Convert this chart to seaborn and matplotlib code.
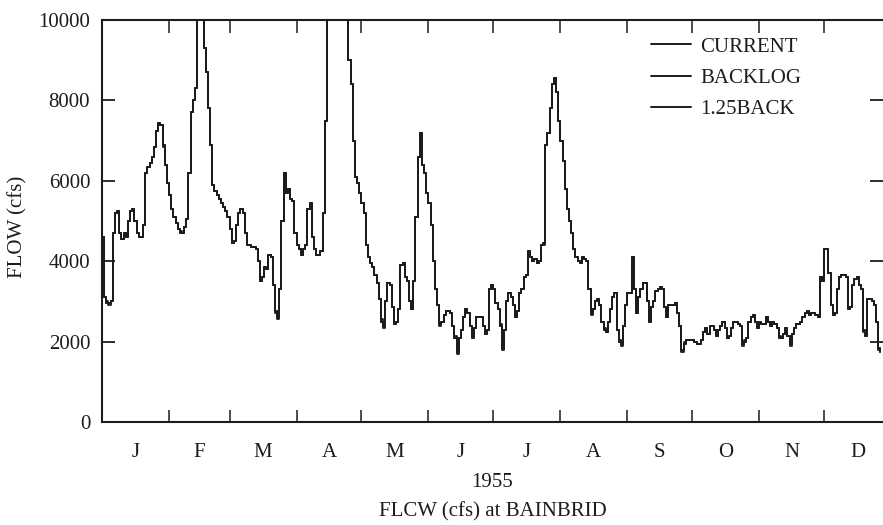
import matplotlib
matplotlib.use("Agg")
import matplotlib.pyplot as plt
from matplotlib.lines import Line2D
import pandas as pd
import seaborn as sns

# ---------------- data (daily flow, cfs, 1955) ----------------
days = list(range(361))

current = [
    4600, 3100, 2950, 2950, 3000, 4700, 5200, 5250, 4700, 4550,
    4700, 4600, 5000, 5250, 5300, 5000, 4700, 4600, 4600, 4900,
    6200, 6350, 6450, 6600, 6850, 7250, 7450, 7400, 6900, 6400,
    5950, 5650, 5300, 5100, 4950, 4800, 4700, 4700, 4850, 5050,
    6200, 7700, 8000, 8300, 11500, 12000, 11000, 9300, 8700, 7800,
    6900, 5900, 5750, 5650, 5550, 5450, 5350, 5250, 5100, 4800,
    4450, 4500, 4900, 5200, 5300, 5200, 4700, 4400, 4400, 4350,
    4350, 4300, 4000, 3500, 3600, 3850, 3800, 4150, 4100, 3400,
    2750, 2600, 3300, 5000, 6200, 5700, 5800, 5550, 5500, 4700,
    4400, 4300, 4150, 4300, 4400, 5300, 5450, 4600, 4300, 4150,
    4150, 4250, 5200, 7500, 10500, 12000, 12500, 13000, 12500, 12000,
    11500, 11000, 10800, 10300, 9000, 8400, 7000, 6100, 5950, 5700,
    5450, 5200, 4400, 4100, 3950, 3850, 3650, 3450, 3050, 2500,
    2400, 3000, 3450, 3400, 2850, 2450, 2500, 2800, 3900, 3950,
    3600, 3500, 3000, 2800, 3500, 5100, 6600, 7200, 6400, 6200,
    5700, 5450, 4900, 4000, 3300, 2900, 2450, 2500, 2650, 2750,
    2750, 2700, 2400, 2100, 1750, 2100, 2300, 2600, 2800, 2700,
    2400, 2100, 2350, 2600, 2600, 2600, 2400, 2200, 2300, 3300,
    3400, 3300, 2950, 2800, 2400, 1850, 2300, 3000, 3200, 3100,
    2900, 2600, 2750, 3200, 3300, 3600, 3650, 4250, 4100, 4000,
    4050, 3950, 4000, 4400, 4450, 6900, 7200, 7800, 8400, 8550,
    8200, 7500, 7000, 6500, 5800, 5300, 5000, 4700, 4300, 4100,
    4000, 3950, 4100, 4050, 4000, 3300, 2700, 2800, 3000, 3050,
    2900, 2500, 2300, 2250, 2500, 2800, 3100, 3200, 2300, 2000,
    1950, 2400, 2900, 3200, 3200, 4100, 3300, 2700, 3100, 3300,
    3450, 3450, 3000, 2500, 2850, 3000, 3250, 3300, 3350, 3300,
    2850, 2600, 2900, 2900, 2900, 2950, 2700, 2400, 1800, 1950,
    2050, 2050, 2050, 2050, 2000, 1950, 1950, 2050, 2250, 2350,
    2200, 2400, 2400, 2300, 2150, 2300, 2400, 2500, 2350, 2100,
    2150, 2350, 2500, 2500, 2450, 2400, 1950, 2000, 2100, 2500,
    2600, 2650, 2500, 2350, 2500, 2450, 2450, 2600, 2500, 2400,
    2500, 2450, 2350, 2100, 2100, 2200, 2350, 2150, 1950, 2200,
    2350, 2450, 2450, 2500, 2600, 2700, 2750, 2650, 2700, 2700,
    2650, 2600, 3600, 3500, 4300, 4300, 3700, 2900, 2650, 2700,
    3300, 3600, 3650, 3650, 3600, 2800, 2850, 3400, 3550, 3600,
    3400, 3300, 2300, 2150, 3050, 3050, 3000, 2900, 2500, 1850,
    1750,
]

backlog = [
    4600, 3100, 2950, 2900, 3000, 4700, 5200, 5250, 4700, 4550,
    4700, 4600, 5000, 5250, 5300, 5000, 4700, 4600, 4600, 4900,
    6200, 6350, 6450, 6600, 6850, 7250, 7450, 7400, 6850, 6400,
    5950, 5650, 5300, 5100, 4950, 4800, 4700, 4700, 4850, 5050,
    6200, 7700, 8000, 8300, 11500, 12000, 11000, 9300, 8700, 7800,
    6900, 5900, 5750, 5650, 5550, 5450, 5350, 5250, 5100, 4800,
    4450, 4500, 4900, 5200, 5300, 5200, 4700, 4400, 4400, 4350,
    4350, 4300, 4000, 3500, 3600, 3850, 3800, 4150, 4100, 3400,
    2750, 2550, 3300, 5000, 6200, 5700, 5800, 5550, 5500, 4700,
    4400, 4300, 4150, 4300, 4400, 5300, 5450, 4600, 4300, 4150,
    4150, 4250, 5200, 7500, 10500, 12000, 12500, 13000, 12500, 12000,
    11500, 11000, 10800, 10300, 9000, 8400, 7000, 6100, 5950, 5700,
    5450, 5200, 4400, 4100, 3950, 3850, 3650, 3450, 3050, 2500,
    2350, 3000, 3450, 3400, 2850, 2450, 2500, 2800, 3900, 3950,
    3600, 3500, 3000, 2800, 3500, 5100, 6600, 7200, 6400, 6200,
    5700, 5450, 4900, 4000, 3300, 2900, 2400, 2500, 2650, 2750,
    2750, 2700, 2400, 2100, 1700, 2100, 2300, 2600, 2800, 2700,
    2400, 2100, 2350, 2600, 2600, 2600, 2400, 2200, 2300, 3300,
    3400, 3300, 2950, 2800, 2400, 1800, 2300, 3000, 3200, 3100,
    2900, 2600, 2750, 3200, 3300, 3600, 3650, 4250, 4100, 4000,
    4050, 3950, 4000, 4400, 4400, 6900, 7200, 7800, 8400, 8550,
    8200, 7500, 7000, 6500, 5800, 5300, 5000, 4700, 4300, 4100,
    4000, 3950, 4100, 4050, 4000, 3300, 2650, 2800, 3000, 3050,
    2900, 2500, 2300, 2250, 2500, 2800, 3100, 3200, 2300, 2000,
    1900, 2400, 2900, 3200, 3200, 4100, 3300, 2700, 3100, 3300,
    3450, 3450, 3000, 2500, 2850, 3000, 3250, 3300, 3350, 3300,
    2850, 2600, 2900, 2900, 2900, 2950, 2700, 2400, 1750, 1950,
    2050, 2050, 2050, 2050, 2000, 1950, 1950, 2050, 2250, 2350,
    2200, 2400, 2400, 2300, 2150, 2300, 2400, 2500, 2350, 2100,
    2150, 2350, 2500, 2500, 2450, 2400, 1900, 2000, 2100, 2500,
    2600, 2650, 2500, 2350, 2500, 2450, 2450, 2600, 2500, 2400,
    2500, 2450, 2350, 2100, 2100, 2200, 2350, 2150, 1900, 2200,
    2350, 2450, 2450, 2500, 2600, 2700, 2750, 2650, 2700, 2700,
    2650, 2600, 3600, 3500, 4300, 4300, 3700, 2900, 2650, 2700,
    3300, 3600, 3650, 3650, 3600, 2800, 2850, 3400, 3550, 3600,
    3400, 3300, 2250, 2150, 3050, 3050, 3000, 2900, 2500, 1800,
    1750,
]

back125 = [
    4600, 3100, 3000, 2950, 3000, 4700, 5200, 5250, 4700, 4550,
    4700, 4600, 5000, 5250, 5300, 5000, 4700, 4600, 4600, 4900,
    6200, 6350, 6450, 6600, 6850, 7250, 7450, 7400, 6900, 6400,
    5950, 5650, 5300, 5100, 4950, 4800, 4750, 4700, 4850, 5050,
    6200, 7700, 8000, 8300, 11500, 12000, 11000, 9300, 8700, 7800,
    6900, 5900, 5750, 5650, 5550, 5450, 5350, 5250, 5100, 4800,
    4450, 4500, 4900, 5200, 5300, 5200, 4700, 4400, 4400, 4350,
    4350, 4300, 4000, 3500, 3600, 3850, 3800, 4150, 4100, 3400,
    2700, 2600, 3300, 5000, 6200, 5700, 5800, 5550, 5500, 4700,
    4400, 4300, 4150, 4300, 4400, 5300, 5450, 4600, 4300, 4150,
    4150, 4250, 5200, 7500, 10500, 12000, 12500, 13000, 12500, 12000,
    11500, 11000, 10800, 10300, 9000, 8400, 7000, 6100, 5950, 5700,
    5450, 5200, 4400, 4100, 3950, 3850, 3650, 3450, 3050, 2550,
    2400, 3000, 3450, 3400, 2850, 2450, 2500, 2800, 3900, 3950,
    3600, 3500, 3000, 2800, 3500, 5100, 6600, 7200, 6400, 6200,
    5700, 5450, 4900, 4000, 3300, 2900, 2450, 2500, 2650, 2750,
    2750, 2700, 2400, 2150, 1750, 2100, 2300, 2600, 2800, 2700,
    2400, 2150, 2350, 2600, 2600, 2600, 2400, 2200, 2300, 3300,
    3400, 3300, 2950, 2800, 2450, 1850, 2300, 3000, 3200, 3100,
    2900, 2600, 2750, 3200, 3300, 3600, 3650, 4250, 4100, 4000,
    4050, 3950, 4000, 4400, 4450, 6900, 7200, 7800, 8400, 8550,
    8200, 7500, 7000, 6500, 5800, 5300, 5000, 4700, 4300, 4100,
    4000, 3950, 4100, 4050, 4000, 3300, 2700, 2800, 3000, 3050,
    2900, 2500, 2350, 2250, 2500, 2800, 3100, 3200, 2300, 2050,
    1950, 2400, 2900, 3200, 3200, 4100, 3300, 2700, 3100, 3300,
    3450, 3450, 3000, 2550, 2850, 3000, 3250, 3300, 3350, 3300,
    2850, 2600, 2900, 2900, 2900, 2950, 2700, 2400, 1800, 2000,
    2050, 2050, 2050, 2050, 2000, 1950, 1950, 2050, 2250, 2350,
    2200, 2400, 2400, 2300, 2150, 2300, 2400, 2500, 2350, 2100,
    2150, 2350, 2500, 2500, 2450, 2400, 1950, 2050, 2100, 2500,
    2600, 2650, 2500, 2350, 2500, 2450, 2450, 2600, 2500, 2400,
    2500, 2450, 2350, 2150, 2100, 2200, 2350, 2150, 1950, 2200,
    2350, 2450, 2450, 2500, 2600, 2700, 2750, 2650, 2700, 2700,
    2650, 2600, 3600, 3500, 4300, 4300, 3700, 2900, 2650, 2700,
    3300, 3600, 3650, 3650, 3600, 2850, 2850, 3400, 3550, 3600,
    3400, 3300, 2300, 2150, 3050, 3050, 3000, 2900, 2500, 1850,
    1800,
]

series_names = ["CURRENT", "BACKLOG", "1.25BACK"]
month_labels = ["J", "F", "M", "A", "M", "J", "J", "A", "S", "O", "N", "D"]
month_starts = [0, 31, 59, 90, 120, 151, 181, 212, 243, 273, 304, 334, 365]
y_ticks = [0, 2000, 4000, 6000, 8000, 10000]
x_title = "1955\nFLCW (cfs) at BAINBRID"
y_title = "FLOW (cfs)"

# ---------------- figure ----------------
sns.set_style("ticks")
plt.rcParams["font.family"] = ["Liberation Serif", "DejaVu Serif"]

W, H = 883, 525
fig = plt.figure(figsize=(W / 100, H / 100), dpi=100)
ax = fig.add_axes([102 / W, 1 - 422 / H, 781 / W, 402 / H])

ink = "#1c1c1c"
df = pd.DataFrame({
    "day": days * 3,
    "flow": current + backlog + back125,
    "series": [n for n in series_names for _ in days],
})
sns.lineplot(data=df, x="day", y="flow", hue="series",
             palette={n: ink for n in series_names},
             drawstyle="steps-post", linewidth=1.3, estimator=None,
             legend=False, ax=ax)

ax.set_xlim(0, 781 / 2.162)
ax.set_ylim(0, 10000)

# x ticks: month boundaries (unlabelled), month letters mid-month
ax.set_xticks(month_starts[1:12])
ax.set_xticklabels([])
mids = [(month_starts[i] + month_starts[i + 1]) / 2 for i in range(12)]
ax.set_xticks(mids, minor=True)
ax.set_xticklabels(month_labels, minor=True)
ax.tick_params(axis="x", which="major", direction="in", length=9, width=1.1,
               top=True, bottom=True, color=ink)
ax.tick_params(axis="x", which="minor", length=0, pad=15, labelsize=15,
               labelcolor=ink)

ax.set_yticks(y_ticks)
ax.set_yticklabels([str(v) for v in y_ticks])
ax.tick_params(axis="y", which="major", direction="in", length=9.5, width=1.3,
               left=True, right=True, pad=8.5, labelsize=15, color=ink,
               labelcolor=ink)

for side in ["left", "top", "bottom"]:
    ax.spines[side].set_linewidth(1.5)
    ax.spines[side].set_color(ink)
ax.spines["right"].set_visible(False)

ax.set_xlabel(x_title, fontsize=15, color=ink, linespacing=1.7)
ax.xaxis.set_label_coords(0.5, -0.127)
ax.set_ylabel(y_title, fontsize=15, color=ink)
ax.yaxis.set_label_coords(-0.1076, 0.485)
ax.yaxis.label.set_verticalalignment("center")

handles = [Line2D([], [], color=ink, linewidth=1.4) for _ in series_names]
ax.legend(handles, series_names, loc="upper left",
          bbox_to_anchor=(651 / W, 1 - 37 / H), bbox_transform=fig.transFigure,
          frameon=False, fontsize=15, handlelength=1.9, handletextpad=0.45,
          labelspacing=0.56, borderpad=0, borderaxespad=0, labelcolor=ink)

fig.savefig("out.png", dpi=100)
